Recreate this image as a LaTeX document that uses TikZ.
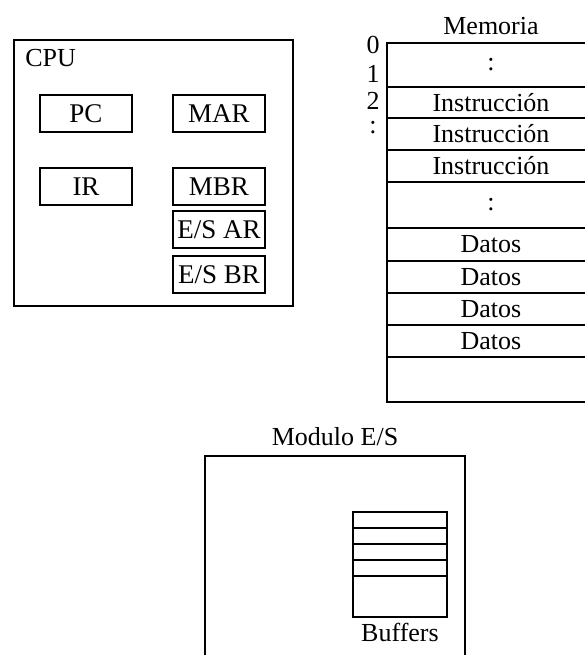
\documentclass[tikz,border=0pt]{standalone}
\usepackage{fontspec}
\setmainfont{Liberation Serif}
\usetikzlibrary{positioning}
\tikzset{
  frame/.style={
    draw,
    line width=0.8pt,
    inner sep=0pt,
    outer sep=0pt
  },
  regbox/.style={
    draw,
    line width=0.7pt,
    minimum width=46pt,
    minimum height=18.5pt,
    inner sep=0pt,
    outer sep=0pt,
    font=\fontsize{13.5}{15}\selectfont
  },
  memcell/.style={
    draw,
    line width=0.7pt,
    minimum width=104pt,
    inner sep=0pt,
    outer sep=0pt,
    font=\fontsize{13}{15}\selectfont
  },
  bufcell/.style={
    draw,
    line width=0.7pt,
    minimum width=47pt,
    minimum height=8pt,
    inner sep=0pt,
    outer sep=0pt
  },
  lbl/.style={
    inner sep=0pt,
    font=\fontsize{13}{15}\selectfont
  }
}

\begin{document}
\begin{tikzpicture}[x=0.5pt,y=-0.5pt]
\useasboundingbox (0,0) rectangle (585,655);
\clip (0,0) rectangle (585,655);
% CPU
\node[frame, minimum width=139.5pt, minimum height=133pt, anchor=north west] (cpu) at (14,40) {};
\node[lbl, anchor=west] (cpulbl) at (25,58) {CPU};
\node[regbox] (pc) at (86,113.5) {PC};
\node[regbox, right=20.5pt of pc] (mar) {MAR};
\node[regbox, below=18pt of pc] (ir) {IR};
\node[regbox, below=18pt of mar] (mbr) {MBR};
\node[regbox, below=3pt of mbr] (esar) {E/S AR};
\node[regbox, below=4pt of esar] (esbr) {E/S BR};
% Memoria
\node[memcell, minimum height=22pt, anchor=north west] (m0) at (387,43) {:};
\foreach \n/\p/\h/\t in {m1/m0/15.5/Instrucción, m2/m1/16/Instrucción, m3/m2/16/Instrucción,
    m4/m3/23/:, m5/m4/16.5/Datos, m6/m5/16/Datos, m7/m6/16/Datos, m8/m7/16/Datos, m9/m8/22.5/}
  \node[memcell, minimum height=\h pt, below=0pt of \p] (\n) {\t};
\node[lbl, above=4pt of m0.north] (memlbl) {Memoria};
\node[lbl] (a0) at (373,45) {0};
\node[lbl] (a1) at (373,74) {1};
\node[lbl] (a2) at (373,101) {2};
\node[lbl] (adots) at (373,128) {:};
% Modulo E/S
\node[frame, minimum width=130pt, minimum height=125pt, anchor=north west] (mod) at (205,456) {};
\node[lbl, above=5pt of mod.north] (modlbl) {Modulo E/S};
\node[bufcell, anchor=north west] (b1) at (353,512) {};
\node[bufcell, below=0pt of b1] (b2) {};
\node[bufcell, below=0pt of b2] (b3) {};
\node[bufcell, below=0pt of b3] (b4) {};
\node[bufcell, minimum height=20.5pt, below=0pt of b4] (b5) {};
\node[lbl, below=3pt of b5] (buflbl) {Buffers};
\end{tikzpicture}
\end{document}
